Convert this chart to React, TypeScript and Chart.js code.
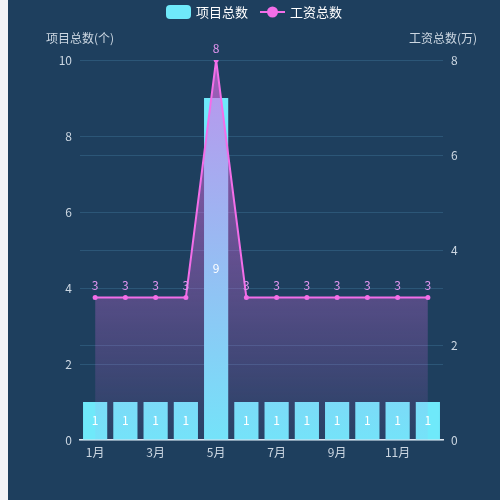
import React, { useEffect, useRef } from 'react';
import { Chart, registerables } from 'chart.js';

Chart.register(...registerables);

const months = ['1月', '2月', '3月', '4月', '5月', '6月', '7月', '8月', '9月', '10月', '11月', '12月'];
const projectCounts = [1, 1, 1, 1, 9, 1, 1, 1, 1, 1, 1, 1];
const wageTotals = [3, 3, 3, 3, 8, 3, 3, 3, 3, 3, 3, 3];
const leftTicks = [0, 2, 4, 6, 8, 10];
const rightTicks = [0, 2, 4, 6, 8];

const barName = '项目总数';
const lineName = '工资总数';
const leftTitle = '项目总数(个)';
const rightTitle = '工资总数(万)';

const font = '"Noto Sans CJK SC", "Noto Sans", sans-serif';
const bg = '#1e3f5e';
const pageBg = '#f3f4f8';
const gridColor = '#2c5677';
const tickColor = '#ccd7e2';
const barColor = '#6fe9fa';
const lineColor = '#f36ee8';

// legend, axis titles and value labels drawn by hand
const decorations = {
    id: 'decorations',
    afterDraw(chart) {
        const { ctx, chartArea } = chart;
        ctx.save();
        ctx.font = '12px ' + font;
        ctx.fillStyle = tickColor;
        ctx.textAlign = 'center';
        ctx.textBaseline = 'middle';
        ctx.fillText(leftTitle, chartArea.left, 38);
        ctx.fillText(rightTitle, chartArea.right, 38);

        // legend
        ctx.font = '13px ' + font;
        const w1 = ctx.measureText(barName).width;
        const w2 = ctx.measureText(lineName).width;
        const total = 25 + 5 + w1 + 12 + 25 + 5 + w2;
        let x = chart.width / 2 - total / 2;
        const y = 12;
        ctx.fillStyle = barColor;
        ctx.beginPath();
        ctx.roundRect(x, y - 7, 25, 14, 4);
        ctx.fill();
        x += 30;
        ctx.fillStyle = '#ffffff';
        ctx.textAlign = 'left';
        ctx.fillText(barName, x, y);
        x += w1 + 12;
        ctx.strokeStyle = lineColor;
        ctx.lineWidth = 2;
        ctx.beginPath();
        ctx.moveTo(x, y);
        ctx.lineTo(x + 25, y);
        ctx.stroke();
        ctx.fillStyle = lineColor;
        ctx.beginPath();
        ctx.arc(x + 12.5, y, 5.5, 0, Math.PI * 2);
        ctx.fill();
        x += 30;
        ctx.fillStyle = '#ffffff';
        ctx.fillText(lineName, x, y);
        ctx.restore();
    },
    afterDatasetsDraw(chart) {
        const { ctx } = chart;
        ctx.save();
        ctx.font = '12px ' + font;
        ctx.textAlign = 'center';
        const barMeta = chart.getDatasetMeta(1);
        ctx.textBaseline = 'middle';
        ctx.fillStyle = '#ffffff';
        barMeta.data.forEach((el, i) => {
            const p = el.getProps(['x', 'y', 'base']);
            ctx.fillText(String(projectCounts[i]), p.x, (p.y + p.base) / 2);
        });
        const lineMeta = chart.getDatasetMeta(0);
        ctx.textBaseline = 'bottom';
        ctx.fillStyle = '#e396f2';
        lineMeta.data.forEach((el, i) => {
            ctx.fillText(String(wageTotals[i]), el.x, el.y - 6);
        });
        ctx.restore();
    }
};

export default function App() {
    const canvas = useRef(null);

    useEffect(() => {
        const html = document.documentElement;
        html.style.background = `linear-gradient(to right, ${pageBg} 8px, ${bg} 8px)`;

        const chart = new Chart(canvas.current, {
            type: 'bar',
            data: {
                labels: months,
                datasets: [
                    {
                        type: 'line',
                        label: lineName,
                        data: wageTotals,
                        yAxisID: 'y1',
                        borderColor: lineColor,
                        borderWidth: 2,
                        pointRadius: 2.5,
                        pointBackgroundColor: lineColor,
                        pointBorderWidth: 0,
                        tension: 0,
                        fill: 'origin',
                        backgroundColor: (context) => {
                            const area = context.chart.chartArea;
                            if (!area) return 'rgba(220,110,230,0.3)';
                            const g = context.chart.ctx.createLinearGradient(0, area.top, 0, area.bottom);
                            g.addColorStop(0, 'rgba(220,110,230,0.7)');
                            g.addColorStop(1, 'rgba(220,110,230,0.05)');
                            return g;
                        },
                        order: 0
                    },
                    {
                        type: 'bar',
                        label: barName,
                        data: projectCounts,
                        yAxisID: 'y',
                        backgroundColor: barColor,
                        barPercentage: 0.8,
                        categoryPercentage: 1,
                        order: 1
                    }
                ]
            },
            options: {
                responsive: true,
                maintainAspectRatio: false,
                animation: false,
                layout: { padding: { top: 60, bottom: 0, left: 0, right: 0 } },
                plugins: {
                    legend: { display: false },
                    tooltip: { enabled: false }
                },
                scales: {
                    x: {
                        grid: { display: false, drawTicks: false },
                        border: { display: true, color: '#dfe6ee', width: 1.5 },
                        ticks: {
                            color: tickColor,
                            font: { family: font, size: 12 },
                            autoSkip: false,
                            maxRotation: 0,
                            padding: 5,
                            callback: (v, i) => (i % 2 === 0 ? months[i] : '')
                        },
                        afterFit: (s) => { s.height = s.chart.height - 440; }
                    },
                    y: {
                        position: 'left',
                        min: 0,
                        max: 10,
                        grid: { color: gridColor, drawTicks: false },
                        border: { display: false },
                        afterBuildTicks: (s) => { s.ticks = leftTicks.map(v => ({ value: v })); },
                        ticks: {
                            color: tickColor,
                            font: { family: font, size: 12 },
                            padding: 8
                        },
                        afterFit: (s) => { s.width = 72; }
                    },
                    y1: {
                        position: 'right',
                        min: 0,
                        max: 8,
                        grid: { color: gridColor, drawTicks: false },
                        border: { display: false },
                        afterBuildTicks: (s) => { s.ticks = rightTicks.map(v => ({ value: v })); },
                        ticks: {
                            color: tickColor,
                            font: { family: font, size: 12 },
                            padding: 8
                        },
                        afterFit: (s) => { s.width = 57; }
                    }
                }
            },
            plugins: [decorations]
        });
        return () => {
            chart.destroy();
        };
    }, []);

    return (
        <div style={{ position: 'fixed', left: 8, top: 0, width: 492, height: 500, background: bg }}>
            <canvas ref={canvas}></canvas>
        </div>
    );
}
